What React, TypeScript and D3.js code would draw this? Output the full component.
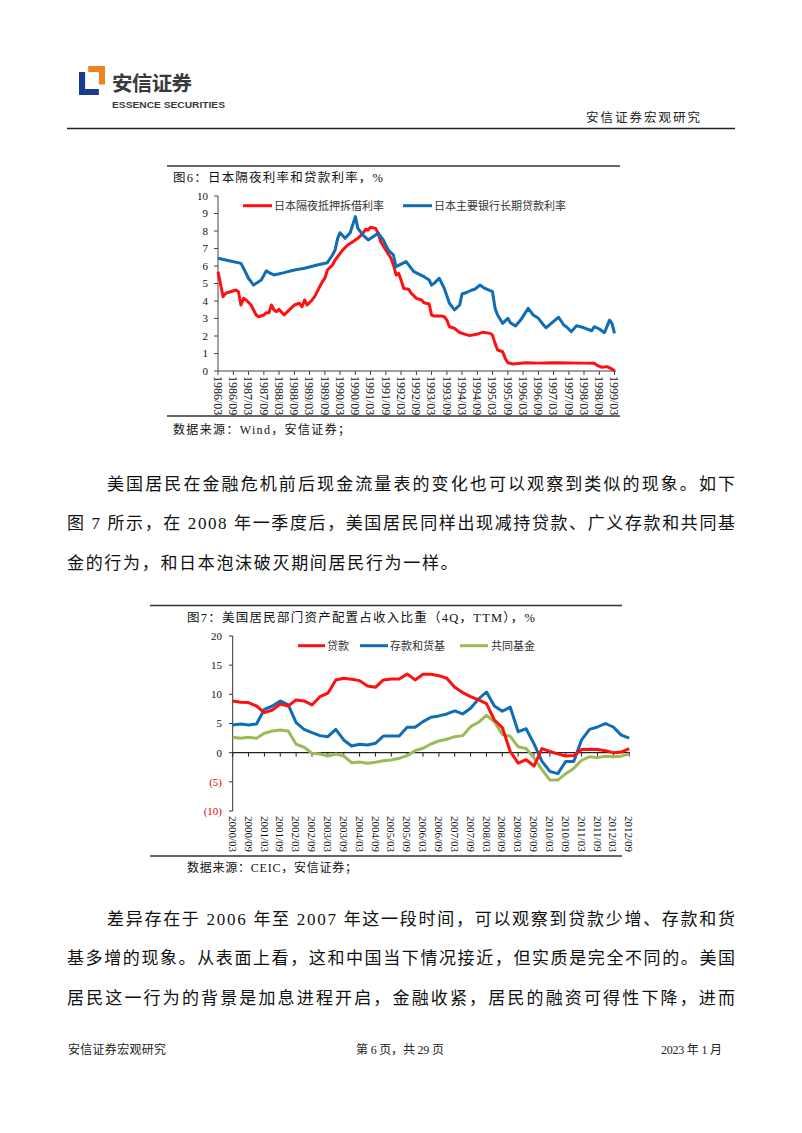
import React from "react";
import * as d3 from "d3";

// ---------- Chart 6 data (Japan) ----------
const jpCallRate: [string, number][] = [
  ["1986-03", 5.67], ["1986-05", 4.25], ["1986-06", 4.44], ["1986-10", 4.63], ["1986-11", 4.53],
  ["1986-12", 3.77], ["1987-01", 4.15], ["1987-02", 4.06], ["1987-04", 3.77], ["1987-06", 3.2],
  ["1987-07", 3.1], ["1987-09", 3.2], ["1987-10", 3.33], ["1987-11", 3.33], ["1987-12", 3.77],
  ["1988-01", 3.49], ["1988-02", 3.39], ["1988-03", 3.52], ["1988-05", 3.2], ["1988-07", 3.49],
  ["1988-09", 3.77], ["1988-11", 3.87], ["1988-12", 3.67], ["1989-01", 4.06], ["1989-02", 3.77],
  ["1989-04", 4.06], ["1989-05", 4.25], ["1989-07", 4.82], ["1989-08", 5.1], ["1989-09", 5.3],
  ["1989-10", 5.77], ["1989-12", 6.06], ["1990-01", 6.34], ["1990-02", 6.53], ["1990-04", 6.91],
  ["1990-06", 7.2], ["1990-08", 7.39], ["1990-10", 7.58], ["1990-12", 7.87], ["1991-01", 8.1],
  ["1991-02", 8.06], ["1991-03", 8.21], ["1991-05", 8.15], ["1991-06", 7.87], ["1991-07", 7.39],
  ["1991-09", 6.91], ["1991-11", 6.44], ["1991-12", 6.06], ["1992-01", 5.49], ["1992-02", 5.58],
  ["1992-03", 5.2], ["1992-04", 4.72], ["1992-06", 4.67], ["1992-07", 4.44], ["1992-09", 4.15],
  ["1992-11", 4.06], ["1992-12", 3.9], ["1993-02", 3.83], ["1993-03", 3.2], ["1993-04", 3.14],
  ["1993-07", 3.14], ["1993-08", 3.1], ["1993-09", 2.91], ["1993-10", 2.53], ["1993-12", 2.44],
  ["1994-02", 2.2], ["1994-04", 2.11], ["1994-06", 2.02], ["1994-09", 2.11], ["1994-11", 2.21],
  ["1995-02", 2.15], ["1995-03", 2.05], ["1995-04", 1.58], ["1995-05", 1.2], ["1995-07", 1.1],
  ["1995-08", 0.72], ["1995-09", 0.47], ["1995-11", 0.4], ["1996-02", 0.44], ["1996-04", 0.47],
  ["1996-09", 0.45], ["1997-03", 0.47], ["1997-09", 0.46], ["1998-03", 0.45], ["1998-07", 0.44],
  ["1998-08", 0.34], ["1998-10", 0.21], ["1998-12", 0.25], ["1999-02", 0.11], ["1999-03", 0.0],
];

const jpPrimeRate: [string, number][] = [
  ["1986-03", 6.44], ["1986-06", 6.34], ["1986-12", 6.15], ["1987-01", 5.87], ["1987-03", 5.3],
  ["1987-05", 4.91], ["1987-08", 5.2], ["1987-10", 5.73], ["1987-11", 5.62], ["1988-01", 5.49],
  ["1988-05", 5.62], ["1988-09", 5.77], ["1989-01", 5.87], ["1989-06", 6.06], ["1989-10", 6.19],
  ["1989-12", 6.63], ["1990-01", 6.91], ["1990-02", 7.58], ["1990-03", 7.9], ["1990-05", 7.58],
  ["1990-07", 7.9], ["1990-09", 8.82], ["1990-10", 8.15], ["1990-12", 7.77], ["1991-02", 7.49],
  ["1991-04", 7.67], ["1991-06", 7.87], ["1991-08", 7.49], ["1991-10", 6.91], ["1991-12", 6.63],
  ["1992-01", 5.96], ["1992-03", 6.11], ["1992-05", 6.25], ["1992-08", 5.68], ["1992-12", 5.39],
  ["1993-02", 5.2], ["1993-03", 4.91], ["1993-04", 5.01], ["1993-06", 5.3], ["1993-08", 4.72],
  ["1993-10", 3.87], ["1993-12", 3.49], ["1994-02", 3.77], ["1994-03", 4.4], ["1994-05", 4.5],
  ["1994-07", 4.63], ["1994-08", 4.67], ["1994-10", 4.91], ["1994-12", 4.72], ["1995-03", 4.53],
  ["1995-04", 3.58], ["1995-05", 3.2], ["1995-07", 2.72], ["1995-09", 3.01], ["1995-10", 2.76],
  ["1995-12", 2.57], ["1996-02", 2.91], ["1996-05", 3.58], ["1996-07", 3.2], ["1996-09", 3.01],
  ["1996-11", 2.63], ["1996-12", 2.47], ["1997-02", 2.72], ["1997-05", 3.07], ["1997-07", 2.63],
  ["1997-08", 2.53], ["1997-10", 2.25], ["1997-12", 2.59], ["1998-03", 2.47], ["1998-06", 2.3],
  ["1998-07", 2.53], ["1998-09", 2.4], ["1998-11", 2.19], ["1999-01", 2.91], ["1999-02", 2.69],
  ["1999-03", 2.15],
];

const jpTickLabels = [
  "1986/03", "1986/09", "1987/03", "1987/09", "1988/03", "1988/09", "1989/03", "1989/09",
  "1990/03", "1990/09", "1991/03", "1991/09", "1992/03", "1992/09", "1993/03", "1993/09",
  "1994/03", "1994/09", "1995/03", "1995/09", "1996/03", "1996/09", "1997/03", "1997/09",
  "1998/03", "1998/09", "1999/03",
];
const jpYTicks = [0, 1, 2, 3, 4, 5, 6, 7, 8, 9, 10];

// ---------- Chart 7 data (US) ----------
const usQuarters = [
  "2000/03", "2000/06", "2000/09", "2000/12", "2001/03", "2001/06", "2001/09", "2001/12",
  "2002/03", "2002/06", "2002/09", "2002/12", "2003/03", "2003/06", "2003/09", "2003/12",
  "2004/03", "2004/06", "2004/09", "2004/12", "2005/03", "2005/06", "2005/09", "2005/12",
  "2006/03", "2006/06", "2006/09", "2006/12", "2007/03", "2007/06", "2007/09", "2007/12",
  "2008/03", "2008/06", "2008/09", "2008/12", "2009/03", "2009/06", "2009/09", "2009/12",
  "2010/03", "2010/06", "2010/09", "2010/12", "2011/03", "2011/06", "2011/09", "2011/12",
  "2012/03", "2012/06", "2012/09",
];
const usLoans = [
  8.87, 8.64, 8.58, 8.0, 6.86, 7.32, 8.35, 8.0, 9.04, 8.87, 8.18, 9.6, 10.19, 12.47, 12.76, 12.59,
  12.35, 11.44, 11.2, 12.47, 12.64, 12.64, 13.5, 12.47, 13.45, 13.45, 13.2, 12.76, 11.2, 10.3, 9.6, 9.04,
  8.4, 5.6, 4.3, 0.2, -1.8, -1.2, -2.3, 0.7, 0.2, -0.2, -0.57, -0.5, 0.55, 0.58, 0.55, 0.34,
  0.0, 0.1, 0.7,
];
const usDeposits = [
  4.75, 4.92, 4.75, 4.92, 7.44, 8.0, 8.87, 8.18, 5.15, 4.0, 3.43, 2.92, 2.74, 4.0, 2.18, 1.15,
  1.44, 1.32, 1.61, 2.86, 2.86, 2.86, 4.35, 4.35, 5.32, 6.07, 6.3, 6.64, 7.15, 6.64, 7.62, 9.2,
  10.4, 8.0, 7.1, 7.8, 3.6, 4.1, 1.5, -1.5, -3.2, -3.6, -1.5, -1.5, 2.2, 4.0, 4.4, 5.0,
  4.4, 3.0, 2.5,
];
const usFunds = [
  2.64, 2.47, 2.64, 2.47, 3.33, 3.72, 3.89, 3.72, 1.44, 0.93, -0.1, -0.22, -0.57, -0.22, -0.57, -1.72,
  -1.6, -1.82, -1.65, -1.37, -1.25, -0.96, -0.51, 0.34, 0.75, 1.49, 2.01, 2.3, 2.74, 2.92, 4.46, 5.21,
  6.4, 5.3, 3.1, 2.8, 1.0, 0.7, -0.9, -2.9, -4.7, -4.7, -3.6, -2.7, -1.3, -0.7, -0.85, -0.6,
  -0.7, -0.6, -0.2,
];
const usYTicks = [20, 15, 10, 5, 0, -5, -10];
const usYTickLabels = ["20", "15", "10", "5", "0", "(5)", "(10)"];

const para1 = [
  "美国居民在金融危机前后现金流量表的变化也可以观察到类似的现象。如下",
  "图 7 所示，在 2008 年一季度后，美国居民同样出现减持贷款、广义存款和共同基",
  "金的行为，和日本泡沫破灭期间居民行为一样。",
];
const para2 = [
  "差异存在于 2006 年至 2007 年这一段时间，可以观察到贷款少增、存款和货",
  "基多增的现象。从表面上看，这和中国当下情况接近，但实质是完全不同的。美国",
  "居民这一行为的背景是加息进程开启，金融收紧，居民的融资可得性下降，进而",
];

const RED = "#FF1010";
const BLUE = "#0F6DB6";
const GREEN = "#9BBB59";
const SERIF = "'Liberation Serif','Noto Sans CJK SC',serif";
const CJK = "'Noto Sans CJK SC','Liberation Serif',sans-serif";

const parseMonth = d3.timeParse("%Y-%m");
const parseSlash = d3.timeParse("%Y/%m");

function JapanChart() {
  const x = d3
    .scaleTime()
    .domain([parseMonth("1986-03") as Date, parseMonth("1999-03") as Date])
    .range([218, 614.5]);
  const y = d3.scaleLinear().domain([0, 10]).range([371, 196]);
  const line = d3
    .line<[string, number]>()
    .x((d) => x(parseMonth(d[0]) as Date))
    .y((d) => y(d[1]));
  const [y0, y1] = y.range();
  return (
    <g>
      <line x1={167} x2={620} y1={166} y2={166} stroke="#333" strokeWidth={1.5} />
      <text x={173} y={182} fontFamily={SERIF} fontSize={12.5} textLength={210} lengthAdjust="spacing" fill="#111">
        图6：日本隔夜利率和贷款利率，%
      </text>
      {/* y axis */}
      <line x1={218} x2={218} y1={y1} y2={y0} stroke="#444" strokeWidth={1} />
      {jpYTicks.map((t) => (
        <g key={t}>
          <line x1={214} x2={218} y1={y(t)} y2={y(t)} stroke="#444" />
          <text x={208} y={y(t)} dy="0.35em" textAnchor="end" fontFamily={SERIF} fontSize={11} fill="#111">
            {t}
          </text>
        </g>
      ))}
      {/* x axis */}
      <line x1={218} x2={616} y1={y0} y2={y0} stroke="#444" strokeWidth={1} />
      {jpTickLabels.map((l) => {
        const xx = x(parseSlash(l) as Date);
        return (
          <g key={l}>
            <line x1={xx} x2={xx} y1={y0} y2={y0 + 4} stroke="#444" />
            <text
              transform={`translate(${xx},${y0 + 5}) rotate(90)`}
              dy="0.35em"
              fontFamily={SERIF}
              fontSize={12}
              fill="#111"
            >
              {l}
            </text>
          </g>
        );
      })}
      <path d={line(jpCallRate) || ""} fill="none" stroke={RED} strokeWidth={3} strokeLinejoin="round" />
      <path d={line(jpPrimeRate) || ""} fill="none" stroke={BLUE} strokeWidth={3} strokeLinejoin="round" />
      {/* legend */}
      <line x1={243} x2={272} y1={205.7} y2={205.7} stroke={RED} strokeWidth={3} />
      <text x={274} y={209.5} fontFamily={SERIF} fontSize={11} fill="#333">日本隔夜抵押拆借利率</text>
      <line x1={403} x2={432} y1={205.7} y2={205.7} stroke={BLUE} strokeWidth={3} />
      <text x={434} y={209.5} fontFamily={SERIF} fontSize={11} fill="#333">日本主要银行长期贷款利率</text>
      <line x1={167} x2={620} y1={416} y2={416} stroke="#333" strokeWidth={1.5} />
      <text x={173} y={434} fontFamily={SERIF} fontSize={12} textLength={177} lengthAdjust="spacing" fill="#111">
        数据来源：Wind，安信证券；
      </text>
    </g>
  );
}

function USChart() {
  const x = d3.scalePoint<string>().domain(usQuarters).range([232.7, 629.2]);
  const y = d3.scaleLinear().domain([-10, 20]).range([811, 636]);
  const mk = (vals: number[]) =>
    d3
      .line<number>()
      .x((_, i) => x(usQuarters[i]) as number)
      .y((d) => y(d))(vals) || "";
  const labelQs = usQuarters.filter((q) => q.endsWith("/03") || q.endsWith("/09"));
  return (
    <g>
      <line x1={150} x2={622} y1={605.5} y2={605.5} stroke="#333" strokeWidth={1.5} />
      <text x={187} y={622} fontFamily={SERIF} fontSize={12.5} textLength={348} lengthAdjust="spacing" fill="#111">
        图7：美国居民部门资产配置占收入比重（4Q，TTM），%
      </text>
      <line x1={232.7} x2={232.7} y1={636} y2={811} stroke="#333" strokeWidth={1} />
      {usYTicks.map((t, i) => (
        <g key={t}>
          <line x1={229} x2={232.7} y1={y(t)} y2={y(t)} stroke="#333" />
          <text
            x={222}
            y={y(t)}
            dy="0.35em"
            textAnchor="end"
            fontFamily={SERIF}
            fontSize={11}
            fill={t < 0 ? "#E00000" : "#111"}
          >
            {usYTickLabels[i]}
          </text>
        </g>
      ))}
      <line x1={232.7} x2={630} y1={y(0)} y2={y(0)} stroke="#222" strokeWidth={1.2} />
      {labelQs.map((q) => {
        const xx = x(q) as number;
        return (
          <g key={q}>
            <line x1={xx} x2={xx} y1={y(0)} y2={y(0) + 4} stroke="#222" />
            <text
              transform={`translate(${xx},${816}) rotate(90)`}
              dy="0.35em"
              fontFamily={SERIF}
              fontSize={11}
              fill="#111"
            >
              {q}
            </text>
          </g>
        );
      })}
      <path d={mk(usFunds)} fill="none" stroke={GREEN} strokeWidth={3} strokeLinejoin="round" />
      <path d={mk(usDeposits)} fill="none" stroke={BLUE} strokeWidth={3} strokeLinejoin="round" />
      <path d={mk(usLoans)} fill="none" stroke={RED} strokeWidth={3} strokeLinejoin="round" />
      {/* legend */}
      <line x1={298} x2={325} y1={645.7} y2={645.7} stroke={RED} strokeWidth={3} />
      <text x={327} y={649.5} fontFamily={SERIF} fontSize={11} fill="#333">贷款</text>
      <line x1={360} x2={388} y1={645.7} y2={645.7} stroke={BLUE} strokeWidth={3} />
      <text x={390} y={649.5} fontFamily={SERIF} fontSize={11} fill="#333">存款和货基</text>
      <line x1={460} x2={488} y1={645.7} y2={645.7} stroke={GREEN} strokeWidth={3} />
      <text x={491} y={649.5} fontFamily={SERIF} fontSize={11} fill="#333">共同基金</text>
      <line x1={150} x2={622} y1={856} y2={856} stroke="#333" strokeWidth={1.5} />
      <text x={187} y={872} fontFamily={SERIF} fontSize={12} textLength={170} lengthAdjust="spacing" fill="#111">
        数据来源：CEIC，安信证券；
      </text>
    </g>
  );
}

function Paragraph({ lines, top }: { lines: string[]; top: number }) {
  return (
    <g>
      {lines.map((l, i) => {
        const x0 = i === 0 ? 107 : 67;
        const justified = !l.endsWith("。") || l.length > 30;
        const len = justified ? 735 - x0 : l.length * 18.6;
        return (
          <text
            key={i}
            x={x0}
            y={top + i * 39.3}
            fontFamily={SERIF}
            fontSize={17}
            textLength={len}
            lengthAdjust="spacing"
            fill="#111"
          >
            {l}
          </text>
        );
      })}
    </g>
  );
}

export default function App() {
  return (
    <svg
      width={802}
      height={1133}
      viewBox="0 0 802 1133"
      style={{ position: "absolute", left: 0, top: 0, background: "#fff" }}
    >
      <rect width={802} height={1133} fill="#fff" />
      {/* header logo */}
      <polygon points="88.2,66 105,66 105,84.4 98.9,84.4 98.9,72.1 88.2,72.1" fill="#EE8420" />
      <polygon points="79,72.1 85.1,72.1 85.1,89 98.9,89 98.9,95.1 79,95.1" fill="#1B3B8E" />
      <text x={112} y={91} fontFamily={CJK} fontSize={20.5} fontWeight={700} fill="#3a3a3a" textLength={80} lengthAdjust="spacing">
        安信证券
      </text>
      <text
        x={112}
        y={108}
        fontFamily="'Liberation Sans Narrow','Liberation Sans',Arial,sans-serif"
        fontSize={9}
        fontWeight={700}
        fill="#3a3a3a"
        textLength={113}
        lengthAdjust="spacingAndGlyphs"
      >
        ESSENCE SECURITIES
      </text>
      <text x={586} y={121.5} fontFamily={SERIF} fontSize={12.5} textLength={114} lengthAdjust="spacing" fill="#222">
        安信证券宏观研究
      </text>
      <line x1={67} x2={735} y1={128.5} y2={128.5} stroke="#222" strokeWidth={1.3} />

      <JapanChart />
      <Paragraph lines={para1} top={490} />
      <USChart />
      <Paragraph lines={para2} top={925} />

      {/* footer */}
      <text x={68} y={1054} fontFamily={SERIF} fontSize={12} textLength={98} lengthAdjust="spacing" fill="#222">
        安信证券宏观研究
      </text>
      <text x={356} y={1054} fontFamily={SERIF} fontSize={12} textLength={88} lengthAdjust="spacing" fill="#222">
        第 6 页，共 29 页
      </text>
      <text x={661} y={1054} fontFamily={SERIF} fontSize={12} textLength={61} lengthAdjust="spacing" fill="#222">
        2023 年 1 月
      </text>
    </svg>
  );
}
